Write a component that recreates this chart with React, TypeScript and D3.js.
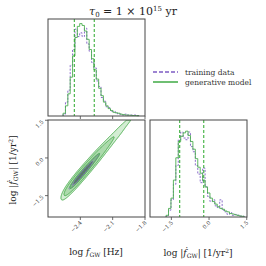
import React from 'react';
import * as d3 from 'd3';

// top histogram: log f_GW
const fDomain = [-2.70, -1.80];
const fBinStart = -2.56;
const fBinWidth = 0.022;
const fGen = [0.03, 0.11, 0.24, 0.42, 0.65, 0.85, 0.97, 1.0, 0.98, 0.92, 0.83, 0.72, 0.62, 0.5, 0.4, 0.3,
  0.22, 0.15, 0.11, 0.08, 0.06, 0.04, 0.035, 0.03, 0.02, 0.015, 0.01, 0.01, 0.008, 0.005, 0.005, 0.003];
const fTrain = [0.02, 0.15, 0.28, 0.55, 0.72, 0.94, 0.86, 0.9, 0.86, 0.95, 0.78, 0.7, 0.58, 0.52, 0.38, 0.32,
  0.2, 0.16, 0.1, 0.09, 0.05, 0.05, 0.03, 0.02, 0.02, 0.01, 0.02, 0.01, 0.01, 0.01, 0.01, 0.005];
const fQuantiles = [-2.456, -2.271];
const fTicks = [-2.4, -2.1, -1.8];

// right histogram: log |fdot_GW|
const fdDomain = [-2.35, 1.51];
const fdBinStart = -1.71;
const fdBinWidth = 0.097;
const fdGen = [0.02, 0.1, 0.22, 0.43, 0.69, 0.88, 0.94, 0.98, 1.0, 0.95, 0.88, 0.79, 0.68, 0.58, 0.51, 0.43,
  0.35, 0.28, 0.22, 0.18, 0.15, 0.12, 0.1, 0.09, 0.07, 0.06, 0.04, 0.035, 0.025, 0.02, 0.012, 0.008];
const fdTrain = [0.01, 0.08, 0.2, 0.38, 0.6, 0.9, 0.99, 0.92, 0.9, 0.99, 0.82, 0.76, 0.6, 0.5, 0.4, 0.57,
  0.35, 0.24, 0.18, 0.2, 0.13, 0.11, 0.2, 0.08, 0.06, 0.03, 0.05, 0.02, 0.03, 0.02, 0.01, 0.01];
const fdQuantiles = [-1.167, -0.21];
const fdTicks = [-1.5, 0, 1.5];

// joint density: ridge log|fdot| = intercept + slope * log f
const ridgeSlope = 4.9;
const ridgeIntercept = 11.05;
const ridgeSpread = 0.1;
const massLevels = [0.995, 0.95, 0.68, 0.39];
const fillColors = ['#d3edd3', '#acdaac', '#82ba87', '#56815f'];

const green = '#4caf50';
const purple = '#7d5cc4';
const qGreen = '#2aa82a';
const frame = '#474747';

const L = 48, T = 19, S = 97, B = 120, R = 150;
const font = 'DejaVu Serif, serif';

function stepPath(start: number, width: number, vals: number[], x: any, y: any) {
  const pts: [number, number][] = [[start, 0], ...vals.map((v, i) => [start + i * width, v] as [number, number]),
    [start + vals.length * width, 0]];
  return d3.line<[number, number]>().x(d => x(d[0])).y(d => y(d[1])).curve(d3.curveStepAfter)(pts) || '';
}

function jointContours(hist: number[], spread: number, levels: number[]) {
  const nx = 180, ny = 180;
  const dx = fDomain[1] - fDomain[0];
  const dy = fdDomain[1] - fdDomain[0];
  const centers = hist.map((_, i) => fBinStart + (i + 0.5) * fBinWidth);
  const values = new Array(nx * ny);
  for (let j = 0; j < ny; j++) {
    const yv = fdDomain[1] - (j + 0.5) / ny * dy;
    for (let i = 0; i < nx; i++) {
      const xv = fDomain[0] + (i + 0.5) / nx * dx;
      let m = 0;
      centers.forEach((c, k) => { m += hist[k] * Math.exp(-0.5 * ((xv - c) / 0.02) ** 2); });
      const off = yv - (ridgeIntercept + ridgeSlope * xv);
      values[j * nx + i] = m * Math.exp(-0.5 * (off / spread) ** 2);
    }
  }
  const sorted = values.slice().sort((a, b) => b - a);
  const total = d3.sum(sorted);
  const cum: number[] = [];
  let acc = 0;
  sorted.forEach(v => { acc += v; cum.push(acc); });
  const thr = levels.map(p => sorted[d3.bisectLeft(cum, p * total)]);
  return { nx, ny, dx, dy, contours: d3.contours().size([nx, ny]).thresholds(thr)(values) };
}

export default function App() {
  const xF = d3.scaleLinear().domain(fDomain).range([L, L + S]);
  const yTop = d3.scaleLinear().domain([0, 1.05]).range([T + S, T]);
  const yFd = d3.scaleLinear().domain(fdDomain).range([B + S, B]);
  const xFd = d3.scaleLinear().domain(fdDomain).range([R, R + S]);
  const yRight = d3.scaleLinear().domain([0, 1.13]).range([B + S, B]);
  const fmt = d3.format('.1f');

  const gen = jointContours(fGen, ridgeSpread, massLevels);
  const train = jointContours(fTrain, ridgeSpread * 0.7, [0.68, 0.39]);
  const proj = (g: any) => d3.geoPath(d3.geoTransform({
    point(px: number, py: number) {
      this.stream.point(xF(fDomain[0] + px / g.nx * g.dx), yFd(fdDomain[1] - py / g.ny * g.dy));
    }
  }));
  const genPath = proj(gen);
  const trainPath = proj(train);

  const tickLabel = (x: number, y: number, v: number) => (
    <text key={'l' + v + x + y} transform={`translate(${x},${y}) rotate(-45)`} textAnchor="end"
      fontSize={5.5} fill="#333" fontFamily={font}>{fmt(v)}</text>
  );

  return (
    <svg width={266} height={266} style={{ position: 'absolute', left: 0, top: 0 }}>
      <defs>
        <clipPath id="clipJoint"><rect x={L} y={B} width={S} height={S} /></clipPath>
      </defs>
      <text x={133} y={15} textAnchor="middle" fontSize={11} fontFamily={font} fill="#222">
        <tspan fontStyle="italic">τ</tspan><tspan dy={2} fontSize={7}>0</tspan>
        <tspan dy={-2}> = 1 × 10</tspan><tspan dy={-4} fontSize={7}>15</tspan><tspan dy={4}> yr</tspan>
      </text>

      {/* top histogram */}
      <path d={stepPath(fBinStart, fBinWidth, fTrain, xF, yTop)} fill="none" stroke={purple} strokeWidth={0.9} strokeDasharray="2,1.5" />
      <path d={stepPath(fBinStart, fBinWidth, fGen, xF, yTop)} fill="none" stroke={green} strokeWidth={0.9} />
      {fQuantiles.map(q => <line key={q} x1={xF(q)} x2={xF(q)} y1={T} y2={T + S} stroke={qGreen} strokeWidth={1} strokeDasharray="3,2" />)}
      <rect x={L} y={T} width={S} height={S} fill="none" stroke={frame} strokeWidth={1} />
      {fTicks.map(t => <line key={t} x1={xF(t)} x2={xF(t)} y1={T + S} y2={T + S + 3} stroke={frame} strokeWidth={0.8} />)}

      {/* joint panel */}
      <g clipPath="url(#clipJoint)">
        {gen.contours.map((c, i) => <path key={'f' + i} d={genPath(c as any) || ''} fill={fillColors[i]} stroke="none" />)}
        {train.contours.map((c, i) => <path key={'t' + i} d={trainPath(c as any) || ''} fill="none" stroke={purple} strokeWidth={0.8} strokeDasharray="1.5,1" />)}
        {gen.contours.slice(0, 3).map((c, i) => <path key={'s' + i} d={genPath(c as any) || ''} fill="none" stroke={green} strokeWidth={1} />)}
      </g>
      <rect x={L} y={B} width={S} height={S} fill="none" stroke={frame} strokeWidth={1} />
      {fTicks.map(t => <line key={'x' + t} x1={xF(t)} x2={xF(t)} y1={B + S} y2={B + S + 3} stroke={frame} strokeWidth={0.8} />)}
      {fTicks.map(t => tickLabel(xF(t) + 2, B + S + 6, t))}
      {fdTicks.map(t => <line key={'y' + t} x1={L - 3} x2={L} y1={yFd(t)} y2={yFd(t)} stroke={frame} strokeWidth={0.8} />)}
      {fdTicks.map(t => tickLabel(L - 4, yFd(t) + 2, t))}

      {/* right histogram */}
      <path d={stepPath(fdBinStart, fdBinWidth, fdTrain, xFd, yRight)} fill="none" stroke={purple} strokeWidth={0.9} strokeDasharray="2,1.5" />
      <path d={stepPath(fdBinStart, fdBinWidth, fdGen, xFd, yRight)} fill="none" stroke={green} strokeWidth={0.9} />
      {fdQuantiles.map(q => <line key={q} x1={xFd(q)} x2={xFd(q)} y1={B} y2={B + S} stroke={qGreen} strokeWidth={1} strokeDasharray="3,2" />)}
      <rect x={R} y={B} width={S} height={S} fill="none" stroke={frame} strokeWidth={1} />
      {fdTicks.map(t => <line key={'r' + t} x1={xFd(t)} x2={xFd(t)} y1={B + S} y2={B + S + 3} stroke={frame} strokeWidth={0.8} />)}
      {fdTicks.map(t => tickLabel(xFd(t) + 2, B + S + 6, t))}

      {/* axis labels */}
      <text x={96} y={255} textAnchor="middle" fontSize={9} fontFamily={font} fill="#222">
        log <tspan fontStyle="italic">f</tspan><tspan dy={2} fontSize={6}>GW</tspan><tspan dy={-2}> [Hz]</tspan>
      </text>
      <text x={198} y={256} textAnchor="middle" fontSize={9} fontFamily={font} fill="#222">
        log |<tspan fontStyle="italic">ḟ</tspan><tspan dy={2} fontSize={6}>GW</tspan><tspan dy={-2}>| [1/yr</tspan><tspan dy={-3} fontSize={6}>2</tspan><tspan dy={3}>]</tspan>
      </text>
      <text transform="translate(16,170) rotate(-90)" textAnchor="middle" fontSize={9} fontFamily={font} fill="#222">
        log |<tspan fontStyle="italic">ḟ</tspan><tspan dy={2} fontSize={6}>GW</tspan><tspan dy={-2}>| [1/yr</tspan><tspan dy={-3} fontSize={6}>2</tspan><tspan dy={3}>]</tspan>
      </text>

      {/* legend */}
      <line x1={153} x2={178} y1={72} y2={72} stroke={purple} strokeWidth={1.4} strokeDasharray="4,2" />
      <text x={185} y={74.5} fontSize={7.5} fontFamily={font} fill="#333">training data</text>
      <line x1={153} x2={178} y1={82} y2={82} stroke={green} strokeWidth={1.6} />
      <text x={185} y={84.5} fontSize={7.5} fontFamily={font} fill="#333">generative model</text>
    </svg>
  );
}
